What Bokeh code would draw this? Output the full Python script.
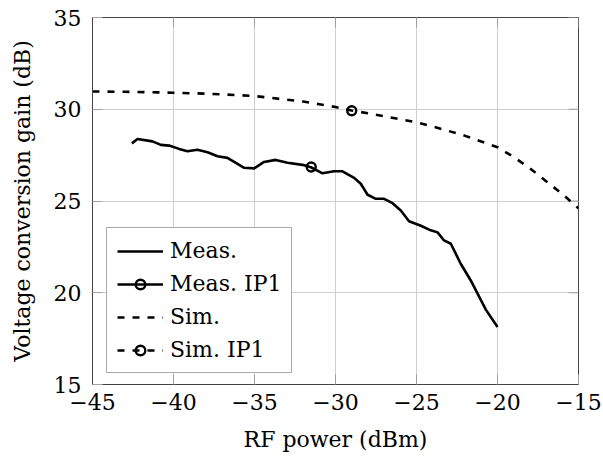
import math
from bokeh.plotting import figure
from bokeh.models import Legend, LegendItem, FixedTicker, Range1d
from bokeh.embed import file_html
from bokeh.resources import INLINE

# ---- data ----
meas_x = [-42.57, -42.22, -41.30, -40.78, -40.27, -39.65, -39.14, -38.52, -37.90,
          -37.28, -36.67, -36.15, -35.64, -35.02, -34.41, -33.69, -32.96, -32.04,
          -31.52, -30.80, -30.09, -29.57, -28.85, -28.44, -28.02, -27.51, -27.00,
          -26.48, -25.97, -25.46, -24.73, -24.12, -23.70, -23.30, -22.88, -22.27,
          -21.65, -21.23, -20.72, -20.00]
meas_y = [28.14, 28.38, 28.25, 28.06, 28.02, 27.84, 27.71, 27.79, 27.66,
          27.44, 27.35, 27.08, 26.81, 26.78, 27.13, 27.24, 27.08, 26.97,
          26.84, 26.51, 26.62, 26.62, 26.26, 25.94, 25.34, 25.12, 25.12,
          24.88, 24.48, 23.90, 23.65, 23.40, 23.29, 22.85, 22.67, 21.58,
          20.67, 19.95, 19.08, 18.13]

sim_x = [-45, -43, -41, -40, -38, -36, -35, -34, -32, -31, -30, -29, -28, -27,
         -26, -25, -24, -23, -22, -21, -20, -19, -18, -17, -16, -15]
sim_y = [30.97, 30.95, 30.92, 30.90, 30.85, 30.77, 30.72, 30.62, 30.42, 30.27,
         30.12, 29.93, 29.78, 29.62, 29.46, 29.28, 29.06, 28.81, 28.55, 28.24,
         27.93, 27.40, 26.78, 26.08, 25.38, 24.60]

meas_ip1_x = [-31.5]
meas_ip1_y = [26.85]
sim_ip1_x = [-29.0]
sim_ip1_y = [29.92]

x_ticks = [-45, -40, -35, -30, -25, -20, -15]
y_ticks = [15, 20, 25, 30, 35]
x_tick_labels = {t: "\u2212" + str(abs(t)) for t in x_ticks}

X_MIN, X_MAX = -45, -15
Y_MIN, Y_MAX = 15, 35

FONT = "DejaVu Serif"
FS = "22px"
TICK_COLOR = "#a0a0a0"

p = figure(width=603, height=460, output_backend="svg", toolbar_location=None,
           x_range=Range1d(X_MIN, X_MAX), y_range=Range1d(Y_MIN, Y_MAX),
           min_border_left=92, min_border_right=25, min_border_top=17,
           min_border_bottom=76,
           x_axis_label="RF power (dBm)", y_axis_label="Voltage conversion gain (dB)")

p.background_fill_color = "white"
p.border_fill_color = "white"
p.outline_line_color = "#444444"
p.outline_line_width = 1

xa = p.below[0]
ya = p.left[0]
xa.ticker = FixedTicker(ticks=x_ticks)
ya.ticker = FixedTicker(ticks=y_ticks)
xa.major_label_overrides = x_tick_labels

for ax in [xa, ya]:
    ax.axis_line_color = "#444444"
    ax.major_tick_in = 10
    ax.major_tick_out = 0
    ax.major_tick_line_color = TICK_COLOR
    ax.minor_tick_line_color = None
    ax.major_label_text_font = FONT
    ax.major_label_text_font_size = FS
    ax.major_label_text_color = "black"
    ax.axis_label_text_font = FONT
    ax.axis_label_text_font_size = FS
    ax.axis_label_text_font_style = "normal"
    ax.axis_label_text_color = "black"

xa.major_label_standoff = 9
ya.major_label_standoff = 11
xa.axis_label_standoff = 14
ya.axis_label_standoff = 16

p.xgrid.grid_line_color = "#cfcfcf"
p.ygrid.grid_line_color = "#cfcfcf"
p.xgrid.ticker = FixedTicker(ticks=x_ticks)
p.ygrid.ticker = FixedTicker(ticks=y_ticks)

# mirrored inward tick marks on top and right edges
p.ray(x=x_ticks, y=[Y_MAX] * len(x_ticks), length=10, length_units="screen",
      angle=-math.pi / 2, line_color=TICK_COLOR, line_width=1)
p.ray(x=[X_MAX] * len(y_ticks), y=y_ticks, length=10, length_units="screen",
      angle=math.pi, line_color=TICK_COLOR, line_width=1)

r_meas = p.line(meas_x, meas_y, line_color="black", line_width=2.6, line_join="round")
r_sim = p.line(sim_x, sim_y, line_color="black", line_width=2.6, line_dash="7 8")
r_mip = p.scatter(meas_ip1_x, meas_ip1_y, marker="circle", size=9, line_width=2.4,
                  line_color="black", fill_color=None)
r_sip = p.scatter(sim_ip1_x, sim_ip1_y, marker="circle", size=9, line_width=2.4,
                  line_color="black", fill_color=None)

legend = Legend(items=[
    LegendItem(label="Meas.", renderers=[r_meas]),
    LegendItem(label="Meas. IP1", renderers=[r_meas, r_mip]),
    LegendItem(label="Sim.", renderers=[r_sim]),
    LegendItem(label="Sim. IP1", renderers=[r_sim, r_sip]),
], location=(14, 11))
legend.label_text_font = FONT
legend.label_text_font_size = FS
legend.label_text_color = "black"
legend.glyph_width = 46
legend.glyph_height = 24
legend.label_height = 24
legend.label_standoff = 7
legend.spacing = 8
legend.padding = 10
legend.margin = 0
legend.border_line_color = "#555555"
legend.border_line_width = 1
legend.background_fill_alpha = 1.0
p.add_layout(legend)

open("out.html", "w").write(file_html(p, INLINE))
